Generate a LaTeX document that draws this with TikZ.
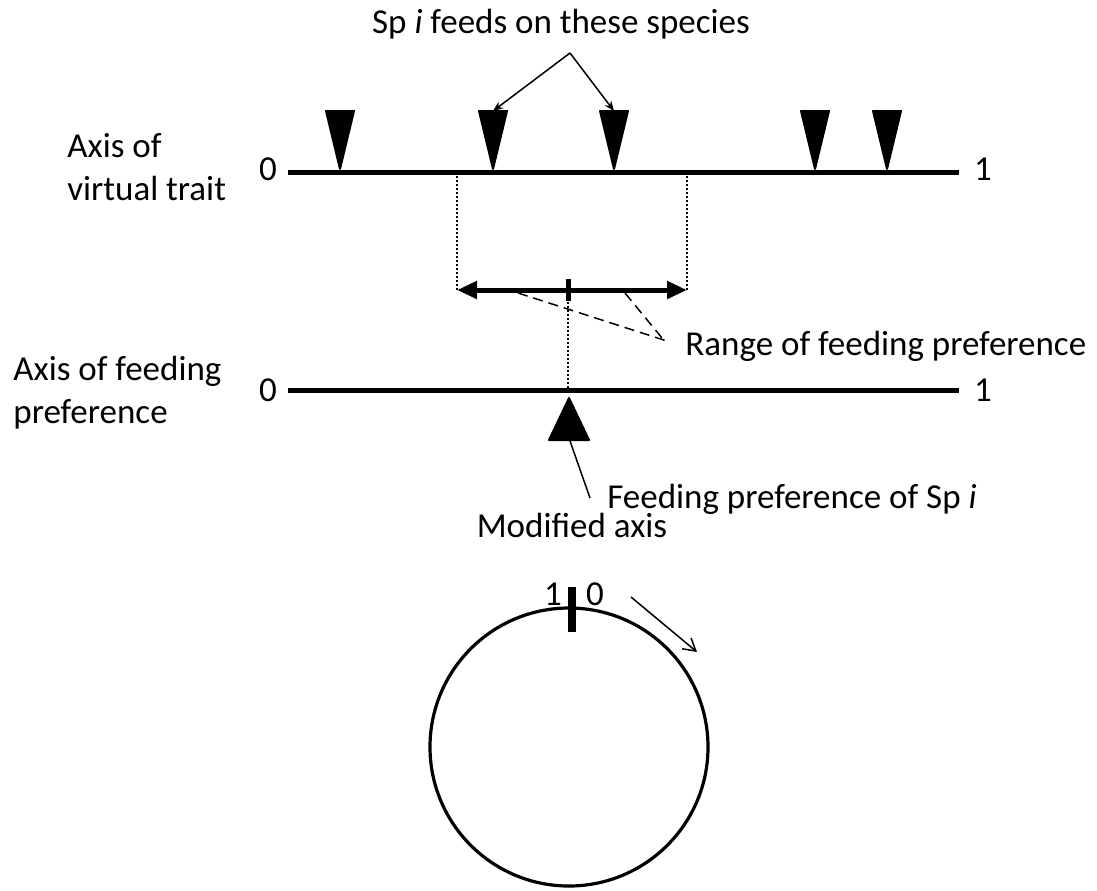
\documentclass[tikz,border=0pt]{standalone}
\usepackage{fontspec}
\setmainfont{Carlito}
\usetikzlibrary{arrows.meta, positioning}

\begin{document}
\begin{tikzpicture}[x=0.5pt,y=-0.5pt,
    every node/.style={inner sep=0pt,font=\fontsize{17.5}{21.5}\selectfont},
    axis/.style={line width=2.5pt},
    guide/.style={line width=0.8pt,dash pattern=on 1pt off 1pt},
    pointer/.style={line width=0.75pt},
    species/.style={fill=black,draw=black,line width=1pt,line join=round}]
    \useasboundingbox (0,0) rectangle (1097,890);

    % axis of virtual trait
    \coordinate (vt0) at (288,172);
    \coordinate (vt1) at (959,172);
    \draw[axis] (vt0) -- (vt1);
    \node[anchor=base] (vtzero) at (268,180) {0};
    \node[anchor=base] (vtone) at (983,180) {1};
    \node[anchor=base west,align=left] (vtname) at (67,200) {Axis of\\virtual trait};

    % prey species on the trait axis
    \foreach \x [count=\i] in {340,493,614,815,887} {
        \filldraw[species] (\x-14,111) -- (\x+14,111) -- (\x,169) -- cycle;
        \coordinate (sp\i) at (\x,111);
    }

    \node[anchor=base] (feeds) at (561,33) {Sp \textit{i} feeds on these species};
    \coordinate (fork) at (570,53);
    \draw[pointer,-{Stealth[length=5pt,width=4pt]}] (fork) -- (sp2);
    \draw[pointer,-{Stealth[length=5pt,width=4pt]}] (fork) -- (sp3);

    % range of feeding preference
    \coordinate (vtl) at (457,176);
    \coordinate (vtr) at (687,176);
    \coordinate (rl) at (457,290);
    \coordinate (rr) at (687,290);
    \coordinate (pref) at (568,290);
    \draw[guide] (vtl) -- (rl);
    \draw[guide] (vtr) -- (rr);
    \draw[axis,{Triangle[length=10pt,width=8.5pt]}-{Triangle[length=10pt,width=8.5pt]}] (rl) -- (rr);
    \draw[axis] (pref) ++(0,-11) -- ++(0,22);

    \node[anchor=base west] (range) at (685,355) {Range of feeding preference};
    \coordinate (rg1) at (518,293);
    \coordinate (rg2) at (625,293);
    \coordinate (rt1) at (670,342);
    \coordinate (rt2) at (662,338);
    \draw[pointer,dash pattern=on 5pt off 3pt] (rg1) -- (rt1);
    \draw[pointer,dash pattern=on 5pt off 3pt] (rg2) -- (rt2);

    % axis of feeding preference
    \coordinate (fp0) at (288,390);
    \coordinate (fp1) at (959,390);
    \coordinate (fp) at (568,390);
    \draw[guide] (pref) -- (fp);
    \draw[axis] (fp0) -- (fp1);
    \node[anchor=base] (fpzero) at (268,401) {0};
    \node[anchor=base] (fpone) at (983,401) {1};
    \node[anchor=base west,align=left] (fpname) at (13,423) {Axis of feeding\\preference};

    % Sp i
    \filldraw[species] (569,398) -- (589,440) -- (549,440) -- cycle;
    \coordinate (spi) at (570,441);
    \node[anchor=base west] (spilabel) at (607,508) {Feeding preference of Sp \textit{i}};
    \coordinate (lead) at (590,498);
    \draw[pointer] (lead) -- (spi);

    % modified axis
    \node[anchor=base] (mod) at (572,537) {Modified axis};
    \coordinate (ring) at (569,747);
    \draw[line width=1.6pt] (ring) circle (139);
    \draw[line width=4pt] (572,587) -- (572,632);
    \node[anchor=base] (one) at (553,605) {1};
    \node[anchor=base] (zero) at (595,605) {0};
    \coordinate (turn0) at (631,597);
    \coordinate (turn1) at (697,652);
    \draw[pointer,-{Straight Barb[length=6pt,width=7pt]}] (turn0) -- (turn1);
\end{tikzpicture}
\end{document}
